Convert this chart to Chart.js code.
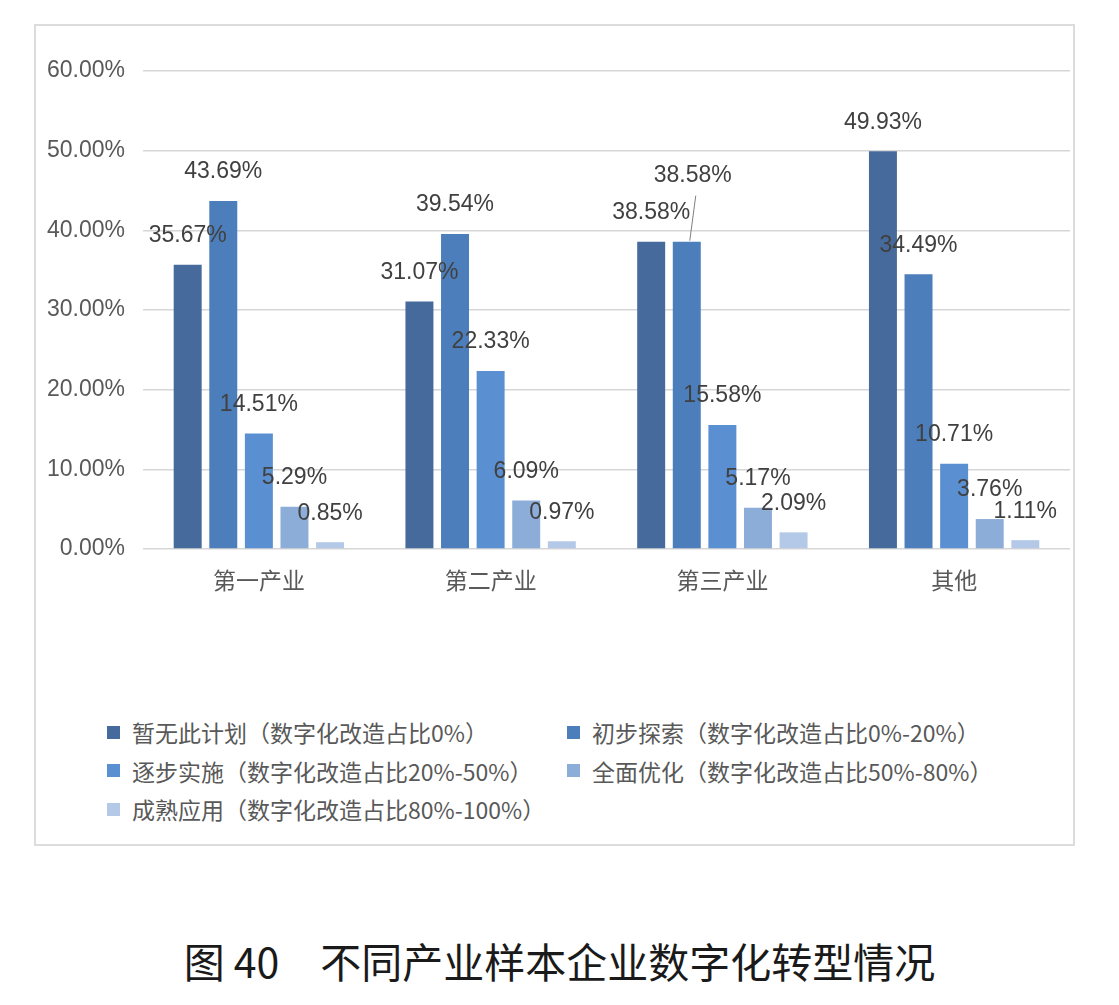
<!DOCTYPE html>
<html>
<head>
<meta charset="utf-8">
<script src="https://cdn.jsdelivr.net/npm/chart.js@4.4.1/dist/chart.umd.min.js"></script>
<style>
  body { margin: 0; background: #fff; width: 1119px; height: 1005px; position: relative; overflow: hidden; }
  #frame { position: absolute; left: 34px; top: 24px; width: 1041px; height: 822px; box-sizing: border-box; border: 2px solid #dcdcdc; }
  #chartBox { position: absolute; left: 36px; top: 26px; width: 1037px; height: 600px; }
  #legend { position: absolute; left: 107px; top: 713px; display: grid; grid-template-columns: 460px auto; grid-auto-rows: 38.5px;
            font-family: "Noto Sans CJK SC", sans-serif; font-size: 23px; color: #595959; }
  #legend .item { display: flex; align-items: center; white-space: nowrap; }
  #legend .box { width: 13px; height: 13px; margin-right: 12px; flex: none; }
  #caption { position: absolute; left: 0; top: 935px; width: 1119px; text-align: center; line-height: 50px;
             font-family: "Noto Sans CJK SC", sans-serif; font-size: 41px; color: #1a1a1a; }
</style>
</head>
<body>
<div id="frame"></div>
<div id="chartBox"><canvas id="industryChart"></canvas></div>
<div id="legend"></div>
<div id="caption">图 40　不同产业样本企业数字化转型情况</div>
<script>
// categorías y series (valores en %)
const categories = ["第一产业", "第二产业", "第三产业", "其他"];
const seriesNames = [
  "暂无此计划（数字化改造占比0%）",
  "初步探索（数字化改造占比0%-20%）",
  "逐步实施（数字化改造占比20%-50%）",
  "全面优化（数字化改造占比50%-80%）",
  "成熟应用（数字化改造占比80%-100%）"
];
const noPlan     = [35.67, 31.07, 38.58, 49.93];
const exploring  = [43.69, 39.54, 38.58, 34.49];
const implementing = [14.51, 22.33, 15.58, 10.71];
const optimizing = [5.29, 6.09, 5.17, 3.76];
const mature     = [0.85, 0.97, 2.09, 1.11];
const yTicks = [0, 10, 20, 30, 40, 50, 60];

const colors = ["#466A9C", "#4C7EBB", "#5A90D1", "#8DADD9", "#B4C9E7"];
const seriesValues = [noPlan, exploring, implementing, optimizing, mature];

// etiqueta desplazada con línea guía (dataset:índice)
const labelShift = { "1:2": { dx: 6, dy: -37, leader: true } };

const labelPlugin = {
  id: "barLabels",
  afterDatasetsDraw(chart) {
    const ctx = chart.ctx;
    ctx.save();
    ctx.font = '23px "Liberation Sans", Arial, sans-serif';
    ctx.fillStyle = "#404040";
    ctx.textAlign = "center";
    ctx.textBaseline = "middle";
    chart.data.datasets.forEach((ds, di) => {
      const meta = chart.getDatasetMeta(di);
      meta.data.forEach((bar, i) => {
        const shift = labelShift[di + ":" + i];
        let x = bar.x, y = bar.y - 29;
        if (shift) {
          x += shift.dx; y += shift.dy;
          if (shift.leader) {
            ctx.strokeStyle = "#7f7f7f";
            ctx.lineWidth = 1;
            ctx.beginPath();
            ctx.moveTo(bar.x + 3, bar.y - 1);
            ctx.lineTo(x + 3, y + 20);
            ctx.stroke();
          }
        }
        ctx.fillText(ds.data[i].toFixed(2) + "%", x, y);
      });
    });
    ctx.restore();
  }
};

const chart = new Chart(document.getElementById("industryChart"), {
  type: "bar",
  data: {
    labels: categories,
    datasets: seriesNames.map((name, k) => ({
      label: name,
      data: seriesValues[k],
      backgroundColor: colors[k],
      categoryPercentage: 0.768,
      barPercentage: 0.786,
    })),
  },
  options: {
    responsive: true,
    maintainAspectRatio: false,
    animation: false,
    layout: { padding: { top: 45, right: 3, left: 0, bottom: 0 } },
    plugins: { legend: { display: false }, tooltip: { enabled: false } },
    scales: {
      x: {
        grid: { display: false },
        border: { display: false },
        ticks: { padding: 9, color: "#595959", font: { family: '"Noto Sans CJK SC", sans-serif', size: 23 } },
        afterFit(s) { s.height = 77; },
      },
      y: {
        min: 0,
        max: 60,
        afterBuildTicks(s) { s.ticks = yTicks.map(v => ({ value: v })); },
        grid: { color: "#d6d6d6", lineWidth: 1.5, drawTicks: false },
        border: { display: false },
        ticks: {
          padding: 18,
          color: "#595959",
          font: { family: '"Liberation Sans", Arial, sans-serif', size: 23 },
          callback: v => v.toFixed(2) + "%",
        },
        afterFit(s) { s.width = 107; },
      },
    },
  },
  plugins: [labelPlugin],
});

// leyenda en HTML (dos columnas)
const legendEl = document.getElementById("legend");
chart.data.datasets.forEach(ds => {
  const item = document.createElement("div");
  item.className = "item";
  const box = document.createElement("span");
  box.className = "box";
  box.style.background = ds.backgroundColor;
  const txt = document.createElement("span");
  txt.textContent = ds.label;
  item.appendChild(box);
  item.appendChild(txt);
  legendEl.appendChild(item);
});
</script>
</body>
</html>
